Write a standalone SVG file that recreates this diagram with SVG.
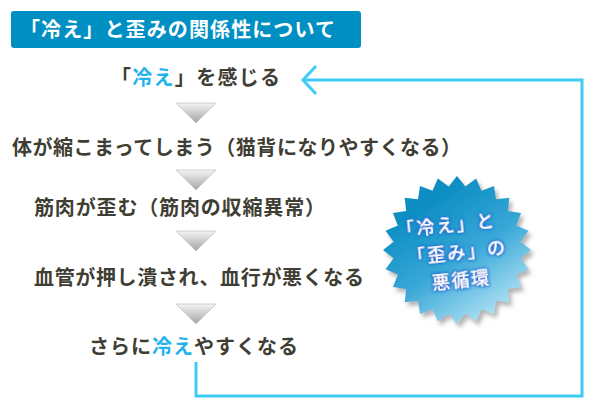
<svg xmlns="http://www.w3.org/2000/svg" width="600" height="410" viewBox="0 0 600 410">
<defs>
<style>
.t{font-family:"Noto Sans CJK JP","Noto Sans",sans-serif;font-weight:bold;font-size:20px;fill:#3f3e34}
.hl{fill:#1fb3ea}
.h{font-family:"Noto Sans CJK JP","Noto Sans",sans-serif;font-weight:bold;font-size:20px;fill:#ffffff}
.b{font-family:"Noto Sans CJK JP","Noto Sans",sans-serif;font-weight:500;font-size:18px;fill:#ffffff}
.tri{fill:url(#gTri);stroke:#c4c4c4;stroke-width:0.8}
.con{fill:none;stroke:#3fcbf5;stroke-width:3;stroke-linejoin:miter}
</style>
<linearGradient id="gTri" x1="0" y1="0" x2="0" y2="1">
<stop offset="0" stop-color="#f4f4f4"/>
<stop offset="1" stop-color="#a4a4a4"/>
</linearGradient>
<linearGradient id="gBurst" x1="0.3" y1="0.15" x2="0.85" y2="1">
<stop offset="0" stop-color="#0a8dc2"/>
<stop offset="0.45" stop-color="#38a7d7"/>
<stop offset="1" stop-color="#c8eefb"/>
</linearGradient>
<filter id="shadow" x="-20%" y="-20%" width="140%" height="140%">
<feGaussianBlur in="SourceAlpha" stdDeviation="2"/>
<feOffset dx="3" dy="4" result="b"/>
<feFlood flood-color="#777777" flood-opacity="0.55"/>
<feComposite in2="b" operator="in"/>
<feMerge><feMergeNode/><feMergeNode in="SourceGraphic"/></feMerge>
</filter>
<filter id="glow" x="-20%" y="-40%" width="140%" height="180%">
<feMorphology in="SourceAlpha" operator="dilate" radius="1.4"/>
<feGaussianBlur stdDeviation="1.6" result="g"/>
<feFlood flood-color="#1a6fd6" flood-opacity="1"/>
<feComposite in2="g" operator="in"/>
<feMerge><feMergeNode/><feMergeNode in="SourceGraphic"/></feMerge>
</filter>
</defs>

<g id="header">
<rect x="11" y="11" width="350" height="37" rx="3" fill="#008fc3"/>
<text class="h" x="20" y="37" textLength="315" lengthAdjust="spacing">「冷え」と歪みの関係性について</text>
</g>

<g id="connectors">
<polyline class="con" points="196,362 196,396 582,396 582,80 303,80"/>
<polyline class="con" points="316,66 303,80 316,94"/>
</g>

<g id="node1">
<text class="t" x="111" y="85" textLength="169" lengthAdjust="spacing">「<tspan class="hl">冷え</tspan>」を感じる</text>
</g>
<g id="arrow1"><polygon class="tri" points="176,103 216,103 196,123"/></g>

<g id="node2">
<text class="t" x="12" y="155" textLength="449" lengthAdjust="spacing">体が縮こまってしまう（猫背になりやすくなる）</text>
</g>
<g id="arrow2"><polygon class="tri" points="176,170 216,170 196,190"/></g>

<g id="node3">
<text class="t" x="34" y="215" textLength="291" lengthAdjust="spacing">筋肉が歪む（筋肉の収縮異常）</text>
</g>
<g id="arrow3"><polygon class="tri" points="176,231 216,231 196,251"/></g>

<g id="node4">
<text class="t" x="34" y="285" textLength="330" lengthAdjust="spacing">血管が押し潰され、血行が悪くなる</text>
</g>
<g id="arrow4"><polygon class="tri" points="176,304 216,304 196,324"/></g>

<g id="node5">
<text class="t" x="89" y="354" textLength="209" lengthAdjust="spacing">さらに<tspan class="hl">冷え</tspan>やすくなる</text>
</g>

<g id="burst">
<path filter="url(#shadow)" fill="url(#gBurst)" d="M531,250 L520.45,258.35 L528.48,269.15 L516.13,274.49 L521.09,287 L507.77,288.96 L509.33,302.33 L495.96,300.77 L494,314.09 L481.49,309.13 L476.15,321.48 L465.35,313.45 L457,324 L448.65,313.45 L437.85,321.48 L432.51,309.13 L420,314.09 L418.04,300.77 L404.67,302.33 L406.23,288.96 L392.91,287 L397.87,274.49 L385.52,269.15 L393.55,258.35 L383,250 L393.55,241.65 L385.52,230.85 L397.87,225.51 L392.91,213 L406.23,211.04 L404.67,197.67 L418.04,199.23 L420,185.91 L432.51,190.87 L437.85,178.52 L448.65,186.55 L457,176 L465.35,186.55 L476.15,178.52 L481.49,190.87 L494,185.91 L495.96,199.23 L509.33,197.67 L507.77,211.04 L521.09,213 L516.13,225.51 L528.48,230.85 L520.45,241.65 Z"/>
<g transform="rotate(-6 457 250)" filter="url(#glow)">
<text class="b" x="449" y="231" text-anchor="middle" letter-spacing="2">「冷え」と</text>
<text class="b" x="457" y="259" text-anchor="middle" letter-spacing="2">「歪み」の</text>
<text class="b" x="458" y="287" text-anchor="middle" letter-spacing="1.5">悪循環</text>
</g>
</g>
</svg>
